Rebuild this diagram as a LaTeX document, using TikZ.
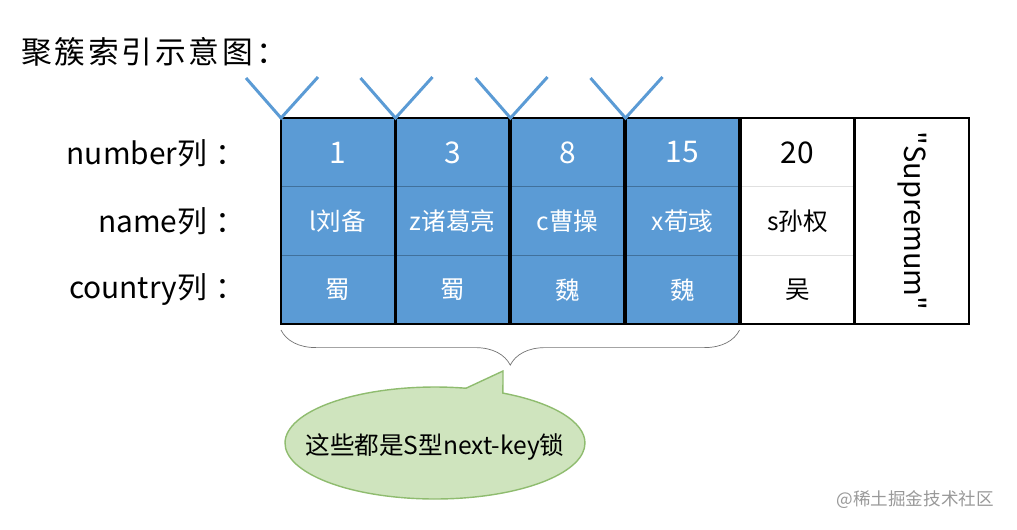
\documentclass[tikz,border=0pt]{standalone}
\usepackage{fontspec}
\setmainfont{Noto Sans CJK SC}[Ligatures=TeXOff]
\newfontfamily\titlefont{Noto Sans CJK SC}[LetterSpace=9]
\usepackage{tikz}
\usetikzlibrary{decorations.pathreplacing}
\usetikzlibrary{shapes.geometric, shapes.callouts}

\definecolor{cellblue}{HTML}{5B9BD5}
\definecolor{lineblue}{HTML}{41719C}
\definecolor{bubblegreen}{HTML}{CFE4BE}
\definecolor{bubbleline}{HTML}{8FBC6F}

\begin{document}
\begin{tikzpicture}[x=0.02cm, y=-0.02cm,
    cell/.style={rectangle, minimum width=2.28cm, minimum height=1.374cm, inner sep=0pt, outer sep=0pt},
    bluecell/.style={cell, fill=cellblue, draw=lineblue, text=white},
    whitecell/.style={cell, draw=black!12},
    frame/.style={draw=black, line width=1.4pt},
    lab/.style={anchor=east, font=\fontsize{17}{20}\selectfont}]
        \useasboundingbox (0,0) rectangle (1017,529);
        \node [anchor=west, font=\titlefont\fontsize{17.5}{20}\selectfont] (title) at (15,52) {聚簇索引示意图\hspace{2pt}：};
        \node [lab] (l1) at (252,153) {number列\hspace{5pt}：};
        \node [lab] (l2) at (252,221) {name列\hspace{5pt}：};
        \node [lab] (l3) at (252,290) {country列\hspace{5pt}：};
        % blue columns with the V marks on top
        \foreach \i/\x/\num/\nm/\ct in {1/338/1/l刘备/蜀, 2/452.5/3/z诸葛亮/蜀, 3/567.5/8/c曹操/魏, 4/682.5/15/x荀彧/魏} {
            \node [bluecell, font=\fontsize{17}{20}\selectfont] (c\i-1) at (\x,152.35) {\num};
            \node [bluecell, font=\fontsize{14}{16}\selectfont] (c\i-2) at (\x,221.05) {\nm};
            \node [bluecell, font=\fontsize{14}{16}\selectfont] (c\i-3) at (\x,289.75) {\ct};
            \draw [frame] (c\i-1.north west) rectangle (c\i-3.south east);
            \draw [cellblue, line width=1.7pt] (c\i-1.north west) ++(-35,-40) -- (c\i-1.north west) -- ++(37,-41);
        }
        \node [whitecell, font=\fontsize{17}{20}\selectfont] (c5-1) at (797.5,152.35) {20};
        \node [whitecell, font=\fontsize{14}{16}\selectfont] (c5-2) at (797.5,221.05) {s孙权};
        \node [whitecell, font=\fontsize{14}{16}\selectfont] (c5-3) at (797.5,289.75) {吴};
        \draw [frame] (c5-1.north west) rectangle (c5-3.south east);
        \node [cell, minimum height=4.12cm] (c6) at (912,221.05) {};
        \node [rotate=-90, font=\fontsize{16.5}{20}\selectfont] (sup) at (c6) {"Supremum"};
        \draw [frame] (c6.north west) rectangle (c6.south east);
        % brace and bubble
        \draw [black!55, decorate, decoration={brace, mirror, amplitude=0.7cm}] ([yshift=-0.12cm]c1-3.south west) -- ([yshift=-0.12cm]c4-3.south east);
        \coordinate (tip) at (503,371);
        \node [ellipse callout, callout absolute pointer={(tip)}, fill=bubblegreen, draw=bubbleline, thick, minimum width=6cm, minimum height=2.24cm, inner sep=0pt] (note) at (435,443) {};
        \node [font=\fontsize{14}{16}\selectfont] (notetext) at (435,447) {这些都是S型next-key锁};
        \node [anchor=east, text=black!40, font=\fontsize{10}{12}\selectfont] (mark) at (1000,500) {@稀土掘金技术社区};
\end{tikzpicture}
\end{document}
